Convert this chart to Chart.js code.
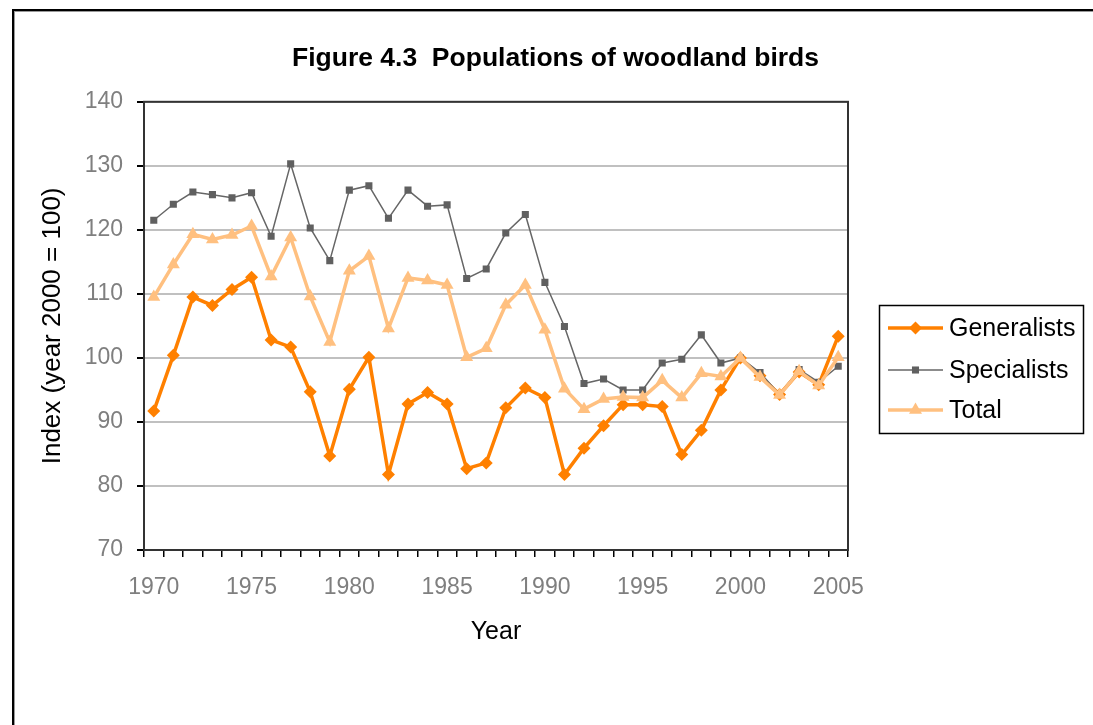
<!DOCTYPE html>
<html>
<head>
<meta charset="utf-8">
<script src="https://cdn.jsdelivr.net/npm/chart.js@4/dist/chart.umd.min.js"></script>
<style>
  body { margin: 0; background: #fff; }
  #wrap { position: relative; width: 1093px; height: 725px; }
  #frame { position: absolute; left: 12px; top: 9px; right: -4px; bottom: -4px;
           border-left: 2px solid #000; border-top: 2px solid #000;
           box-shadow: inset 1px 1px 0 #999; pointer-events: none; }
  canvas { position: absolute; left: 0; top: 0; }
</style>
</head>
<body>
<div id="wrap">
  <div id="frame"></div>
  <canvas id="birdsChart" width="1093" height="725"></canvas>
</div>
<script>
var years = ["1970", "1971", "1972", "1973", "1974", "1975", "1976", "1977", "1978", "1979",
             "1980", "1981", "1982", "1983", "1984", "1985", "1986", "1987", "1988", "1989",
             "1990", "1991", "1992", "1993", "1994", "1995", "1996", "1997", "1998", "1999",
             "2000", "2001", "2002", "2003", "2004", "2005"];
var generalists = [91.7, 100.4, 109.5, 108.2, 110.7, 112.6, 102.8, 101.7, 94.7, 84.7,
                   95.1, 100.1, 81.8, 92.8, 94.6, 92.8, 82.7, 83.6, 92.2, 95.3,
                   93.8, 81.8, 85.9, 89.4, 92.7, 92.7, 92.4, 84.9, 88.7, 95.0,
                   100.0, 97.2, 94.3, 97.8, 95.8, 103.4];
var specialists = [121.5, 124.0, 125.9, 125.5, 125.0, 125.8, 119.0, 130.3, 120.3, 115.2,
                   126.2, 126.9, 121.8, 126.2, 123.7, 123.9, 112.4, 113.9, 119.5, 122.4,
                   111.8, 104.9, 96.0, 96.7, 95.0, 95.0, 99.2, 99.8, 103.6, 99.2,
                   100.0, 97.7, 94.3, 98.2, 96.2, 98.7];
var total = [109.5, 114.6, 119.3, 118.5, 119.2, 120.6, 112.7, 118.8, 109.6, 102.5,
             113.6, 115.9, 104.6, 112.5, 112.1, 111.4, 100.1, 101.5, 108.3, 111.4,
             104.4, 95.2, 92.0, 93.6, 93.9, 93.8, 96.5, 93.8, 97.6, 97.1,
             100.0, 97.0, 94.2, 97.9, 95.7, 100.1];
var yTicks = [70, 80, 90, 100, 110, 120, 130, 140];

var fontFamily = '"Liberation Sans", Arial, sans-serif';

// draws a marker shape for the legend
function drawMarker(ctx, style, x, y, r, color) {
    ctx.fillStyle = color;
    ctx.beginPath();
    if (style === 'rectRot') {
        ctx.moveTo(x, y - r); ctx.lineTo(x + r, y); ctx.lineTo(x, y + r); ctx.lineTo(x - r, y);
    } else if (style === 'rect') {
        var s = r * Math.SQRT1_2;
        ctx.rect(x - s, y - s, 2 * s, 2 * s);
    } else {
        ctx.moveTo(x, y - r); ctx.lineTo(x + r * 0.866, y + r * 0.5); ctx.lineTo(x - r * 0.866, y + r * 0.5);
    }
    ctx.closePath();
    ctx.fill();
}

var plotFrame = {
    id: 'plotFrame',
    beforeDatasetsDraw: function(chart) {
        var a = chart.chartArea, ctx = chart.ctx;
        ctx.save();
        ctx.strokeStyle = '#333';
        ctx.lineWidth = 2;
        ctx.strokeRect(a.left, a.top, a.right - a.left, a.bottom - a.top);
        ctx.restore();
    }
};

var boxLegend = {
    id: 'boxLegend',
    afterDraw: function(chart) {
        var ctx = chart.ctx;
        ctx.save();
        ctx.strokeStyle = '#000';
        ctx.lineWidth = 1.5;
        ctx.strokeRect(879.5, 305.5, 204, 128);
        var rows = [328, 370, 410];
        chart.data.datasets.forEach(function(ds, i) {
            var y = rows[i];
            ctx.strokeStyle = ds.borderColor;
            ctx.lineWidth = ds.borderWidth;
            ctx.beginPath();
            ctx.moveTo(888, y);
            ctx.lineTo(943, y);
            ctx.stroke();
            drawMarker(ctx, ds.pointStyle, 915.5, y, ds.pointRadius, ds.pointBackgroundColor);
            ctx.fillStyle = '#000';
            ctx.font = '25px ' + fontFamily;
            ctx.textBaseline = 'middle';
            ctx.textAlign = 'left';
            ctx.fillText(ds.label, 949, y + 1);
        });
        ctx.restore();
    }
};

var ctx = document.getElementById('birdsChart').getContext('2d');
var myChart = new Chart(ctx, {
    type: 'line',
    data: {
        labels: years,
        datasets: [{
            label: "Generalists",
            data: generalists,
            borderColor: "#ff8000",
            backgroundColor: "#ff8000",
            pointBackgroundColor: "#ff8000",
            pointBorderWidth: 0,
            borderWidth: 3.5,
            pointStyle: 'rectRot',
            pointRadius: 6.5,
            order: 2
        }, {
            label: "Specialists",
            data: specialists,
            borderColor: "#666666",
            backgroundColor: "#666666",
            pointBackgroundColor: "#606060",
            pointBorderWidth: 0,
            borderWidth: 1.5,
            pointStyle: 'rect',
            pointRadius: 5,
            order: 1
        }, {
            label: "Total",
            data: total,
            borderColor: "#ffc080",
            backgroundColor: "#ffc080",
            pointBackgroundColor: "#ffc080",
            pointBorderWidth: 0,
            borderWidth: 3.5,
            pointStyle: 'triangle',
            pointRadius: 7.5,
            order: 0
        }]
    },
    options: {
        responsive: false,
        animation: false,
        layout: { padding: { left: 18, right: 0, top: 0, bottom: 0 } },
        plugins: {
            legend: { display: false },
            tooltip: { enabled: false },
            title: {
                display: true,
                text: "Figure 4.3  Populations of woodland birds",
                color: '#000',
                font: { family: fontFamily, size: 26.5, weight: 'bold' },
                padding: { top: 43, bottom: 27 }
            }
        },
        scales: {
            x: {
                type: 'category',
                offset: true,
                grid: { offset: true, drawOnChartArea: false, color: '#000', tickLength: 7, lineWidth: 1.5 },
                border: { color: '#000', width: 2 },
                ticks: {
                    autoSkip: false,
                    maxRotation: 0,
                    padding: 17,
                    color: '#7f7f7f',
                    font: { family: fontFamily, size: 23 },
                    callback: function(v, i) {
                        var y = years[i];
                        return Number(y) % 5 === 0 ? y : '';
                    }
                },
                title: {
                    display: true,
                    text: 'Year',
                    color: '#000',
                    font: { family: fontFamily, size: 25 },
                    padding: { top: 0, bottom: 78 }
                },
                afterFit: function(s) { s.height = 175; }
            },
            y: {
                min: 70,
                max: 140,
                afterBuildTicks: function(s) { s.ticks = yTicks.map(function(v) { return { value: v }; }); },
                grid: { color: '#c0c0c0', tickColor: '#000', tickLength: 7, lineWidth: 2 },
                border: { color: '#000', width: 2 },
                ticks: {
                    padding: 14,
                    color: '#7f7f7f',
                    font: { family: fontFamily, size: 23 }
                },
                title: {
                    display: true,
                    text: 'Index (year 2000 = 100)',
                    color: '#000',
                    font: { family: fontFamily, size: 26 },
                    padding: { top: 19, bottom: 0 }
                },
                afterFit: function(s) { s.width = 126; }
            },
            yR: {
                position: 'right',
                display: true,
                grid: { display: false },
                border: { display: false },
                ticks: { display: false },
                afterFit: function(s) { s.width = 245; }
            }
        }
    },
    plugins: [plotFrame, boxLegend]
});
</script>
</body>
</html>
